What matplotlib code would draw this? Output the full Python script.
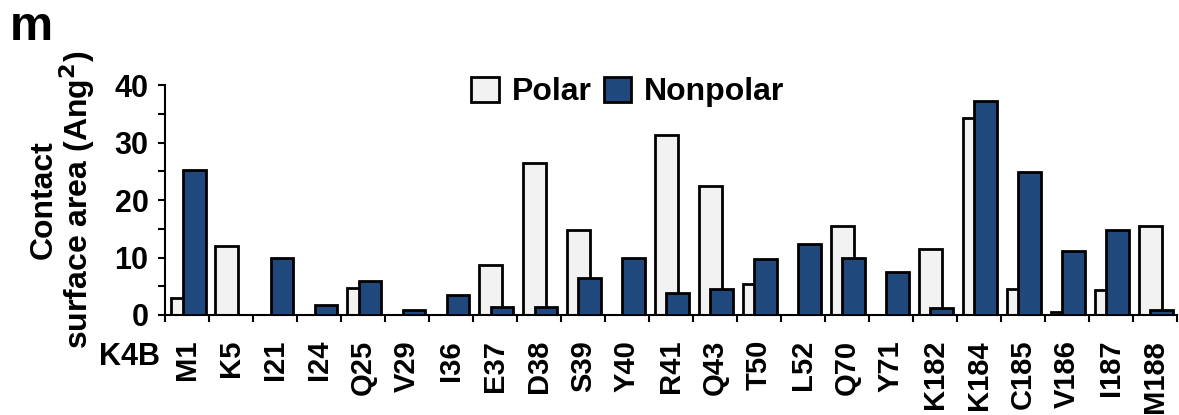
import numpy as np
import matplotlib
matplotlib.use("Agg")
import matplotlib.pyplot as plt
from matplotlib.ticker import MultipleLocator

# %% data
residues = ["M1", "K5", "I21", "I24", "Q25", "V29", "I36", "E37", "D38", "S39", "Y40",
            "R41", "Q43", "T50", "L52", "Q70", "Y71", "K182", "K184", "C185", "V186",
            "I187", "M188"]
polar = [3.0, 12.0, 0, 0, 4.75, 0, 0, 8.7, 26.5, 14.8, 0,
         31.4, 22.5, 5.4, 0, 15.4, 0, 11.4, 34.2, 4.6, 0.6,
         4.35, 15.5]
nonpolar = [25.2, 0, 10.0, 1.7, 5.9, 0.9, 3.4, 1.45, 1.45, 6.4, 10.0,
            3.9, 4.5, 9.7, 12.3, 10.0, 7.5, 1.15, 37.2, 24.8, 11.1,
            14.8, 0.9]

# %% figure
plt.rcParams['font.family'] = ['Liberation Sans', 'DejaVu Sans']
plt.rcParams['font.weight'] = 'bold'

fig = plt.figure(figsize=(11.79, 4.15), dpi=100)
ax = fig.add_axes([0.140, 0.241, 0.858, 0.554])

x = np.arange(len(residues))
pol = np.array(polar)
npol = np.array(nonpolar)
# skip zero bars so no flat outline shows
mp = pol > 0
mn = npol > 0
ax.bar(x[mp] + 0.40, pol[mp], width=0.53, color='#F2F2F2', edgecolor='black',
       linewidth=2.0, label='Polar', zorder=2)
ax.bar(x[mn] + 0.66, npol[mn], width=0.52, color='#1F497D', edgecolor='black',
       linewidth=2.0, label='Nonpolar', zorder=3)

ax.set_xlim(0, len(residues))
ax.set_ylim(0, 40)

ax.spines['top'].set_visible(False)
ax.spines['right'].set_visible(False)
ax.spines['left'].set_linewidth(1.5)
ax.spines['bottom'].set_linewidth(1.5)

ax.yaxis.set_major_locator(MultipleLocator(10))
ax.yaxis.set_minor_locator(MultipleLocator(5))
ax.tick_params(axis='y', which='both', direction='out', length=5, width=1.5, labelsize=22, pad=7)

ax.set_xticks(np.arange(len(residues) + 1))
ax.set_xticklabels([])
ax.set_xticks(x + 0.5, minor=True)
ax.set_xticklabels(residues, minor=True, rotation=90, fontsize=21, fontweight='bold')
ax.tick_params(axis='x', which='major', direction='out', length=5, width=1.5)
ax.tick_params(axis='x', which='minor', length=0, pad=18)

for lab in ax.get_yticklabels():
    lab.set_fontweight('bold')

ax.set_ylabel("Contact\nsurface area (Ang$^\\mathbf{2}$)", fontsize=23, fontweight='bold',
              linespacing=0.95)
ax.yaxis.set_label_coords(-0.067, 0.5)

fig.text(0.1357, 0.1205, "K4B", fontsize=22, fontweight='bold', ha='right', va='baseline')
fig.text(0.008, 0.904, "m", fontsize=35, fontweight='bold', ha='left', va='baseline')

ax.legend(loc='center', bbox_to_anchor=(0.4575, 0.97), ncol=2, frameon=False,
          handlelength=0.85, handleheight=0.85, handletextpad=0.4,
          columnspacing=0.4, prop={'weight': 'bold', 'size': 23})

fig.savefig("out.png", dpi=100)
